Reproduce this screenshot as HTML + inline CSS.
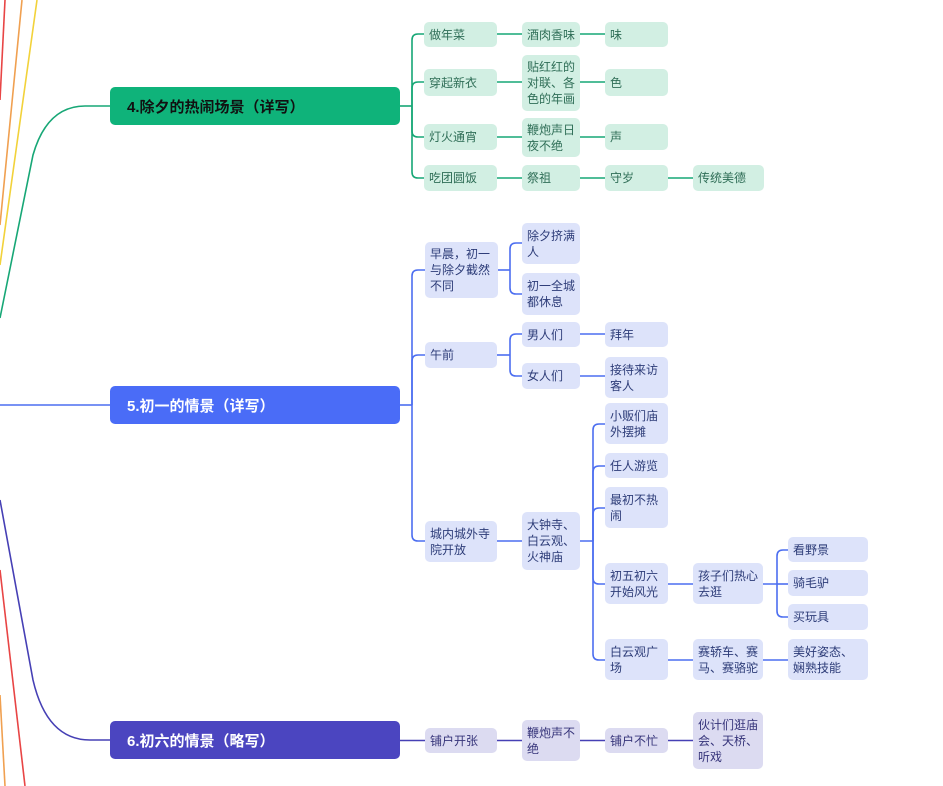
<!DOCTYPE html>
<html><head><meta charset="utf-8"><style>
body{margin:0;width:943px;height:786px;background:#fff;position:relative;overflow:hidden;font-family:"Liberation Sans","Noto Sans CJK SC",sans-serif}
.n{position:absolute;box-sizing:border-box;display:flex;align-items:center;padding:0 5px;font-size:12px;line-height:16px;border-radius:5px}
.g{background:#d2efe3;color:#2f6e57}
.b{background:#dde3fa;color:#2d3c78}
.p{background:#dcdbf1;color:#36347a}
.h{position:absolute;left:110px;width:290px;height:38px;border-radius:5px;display:flex;align-items:center;padding-left:17px;box-sizing:border-box;font-size:15px;font-weight:bold}
svg{position:absolute;left:0;top:0}
</style></head><body>
<svg width="943" height="786" fill="none" stroke-width="1.6">
<path d="M5,0 L0,100" stroke="#e84545"/>
<path d="M22,0 L0,225" stroke="#f0a050"/>
<path d="M37,0 L0,265" stroke="#f2d23a"/>
<path d="M0,570 L25,786" stroke="#e84545"/>
<path d="M0,695 L5,786" stroke="#f0a050"/>
<path d="M0,318 L33,155 Q47,106 85,106 L110,106" stroke="#17a776"/>
<path d="M0,405 L110,405" stroke="#4c6ef0"/>
<path d="M0,500 L33,680 Q47,740 90,740 L110,740" stroke="#4640b5"/>
<g stroke="#17a776">
<path d="M400,106 L412,106"/>
<path d="M412,106 L412,40 Q412,34 418,34 L424,34"/>
<path d="M412,106 L412,88 Q412,82 418,82 L424,82"/>
<path d="M412,106 L412,131 Q412,137 418,137 L424,137"/>
<path d="M412,106 L412,172 Q412,178 418,178 L424,178"/>
<path d="M497,34H522M580,34H605M497,82H522M580,82H605M497,137H522M580,137H605M497,178H522M580,178H605M668,178H693"/>
</g>
<g stroke="#4c6ef0">
<path d="M400,405 L412,405"/>
<path d="M412,405 L412,276 Q412,270 418,270 L425,270"/>
<path d="M412,405 L412,361 Q412,355 418,355 L425,355"/>
<path d="M412,405 L412,535 Q412,541 418,541 L425,541"/>
<path d="M498,270 L510,270"/>
<path d="M510,270 L510,249 Q510,243 516,243 L522,243"/>
<path d="M510,270 L510,288 Q510,294 516,294 L522,294"/>
<path d="M497,355 L510,355"/>
<path d="M510,355 L510,340 Q510,334 516,334 L522,334"/>
<path d="M510,355 L510,370 Q510,376 516,376 L522,376"/>
<path d="M580,334H605M580,376H605M497,541H522M580,541H593"/>
<path d="M593,541 L593,430 Q593,424 599,424 L605,424"/>
<path d="M593,541 L593,472 Q593,466 599,466 L605,466"/>
<path d="M593,541 L593,514 Q593,508 599,508 L605,508"/>
<path d="M593,541 L593,578 Q593,584 599,584 L605,584"/>
<path d="M593,541 L593,654 Q593,660 599,660 L605,660"/>
<path d="M668,584H693M763,584H777M668,660H693M763,660H788"/>
<path d="M777,584 L777,556 Q777,550 783,550 L788,550"/>
<path d="M777,584 L788,584"/>
<path d="M777,584 L777,611 Q777,617 783,617 L788,617"/>
</g>
<path d="M400,740.5H425M497,740.5H522M580,740.5H605M668,740.5H693" stroke="#4640b5"/>
</svg>

<div class="h" style="top:87px;background:#0fb37a;color:#111">4.除夕的热闹场景（详写）</div>
<div class="h" style="top:386px;background:#4a6cf7;color:#fff">5.初一的情景（详写）</div>
<div class="h" style="top:721px;background:#4b45c0;color:#fff">6.初六的情景（略写）</div>

<div class="n g" style="left:424px;top:22px;width:73px;height:25px">做年菜</div>
<div class="n g" style="left:522px;top:22px;width:58px;height:25px">酒肉香味</div>
<div class="n g" style="left:605px;top:22px;width:63px;height:25px">味</div>
<div class="n g" style="left:424px;top:69px;width:73px;height:27px">穿起新衣</div>
<div class="n g" style="left:522px;top:55px;width:58px;height:56px">贴红红的对联、各色的年画</div>
<div class="n g" style="left:605px;top:69px;width:63px;height:27px">色</div>
<div class="n g" style="left:424px;top:124px;width:73px;height:26px">灯火通宵</div>
<div class="n g" style="left:522px;top:118px;width:58px;height:39px">鞭炮声日夜不绝</div>
<div class="n g" style="left:605px;top:124px;width:63px;height:26px">声</div>
<div class="n g" style="left:424px;top:165px;width:73px;height:26px">吃团圆饭</div>
<div class="n g" style="left:522px;top:165px;width:58px;height:26px">祭祖</div>
<div class="n g" style="left:605px;top:165px;width:63px;height:26px">守岁</div>
<div class="n g" style="left:693px;top:165px;width:71px;height:26px">传统美德</div>

<div class="n b" style="left:425px;top:242px;width:73px;height:56px">早晨，初一与除夕截然不同</div>
<div class="n b" style="left:522px;top:223px;width:58px;height:41px">除夕挤满人</div>
<div class="n b" style="left:522px;top:273px;width:58px;height:42px">初一全城都休息</div>
<div class="n b" style="left:425px;top:342px;width:72px;height:26px">午前</div>
<div class="n b" style="left:522px;top:322px;width:58px;height:25px">男人们</div>
<div class="n b" style="left:605px;top:322px;width:63px;height:25px">拜年</div>
<div class="n b" style="left:522px;top:363px;width:58px;height:26px">女人们</div>
<div class="n b" style="left:605px;top:357px;width:63px;height:41px">接待来访客人</div>
<div class="n b" style="left:425px;top:521px;width:72px;height:41px">城内城外寺院开放</div>
<div class="n b" style="left:522px;top:512px;width:58px;height:58px">大钟寺、白云观、火神庙</div>
<div class="n b" style="left:605px;top:403px;width:63px;height:41px">小贩们庙外摆摊</div>
<div class="n b" style="left:605px;top:453px;width:63px;height:25px">任人游览</div>
<div class="n b" style="left:605px;top:487px;width:63px;height:41px">最初不热闹</div>
<div class="n b" style="left:605px;top:563px;width:63px;height:41px">初五初六开始风光</div>
<div class="n b" style="left:693px;top:563px;width:70px;height:41px">孩子们热心去逛</div>
<div class="n b" style="left:788px;top:537px;width:80px;height:25px">看野景</div>
<div class="n b" style="left:788px;top:570px;width:80px;height:26px">骑毛驴</div>
<div class="n b" style="left:788px;top:604px;width:80px;height:26px">买玩具</div>
<div class="n b" style="left:605px;top:639px;width:63px;height:41px">白云观广场</div>
<div class="n b" style="left:693px;top:639px;width:70px;height:41px">赛轿车、赛马、赛骆驼</div>
<div class="n b" style="left:788px;top:639px;width:80px;height:41px">美好姿态、娴熟技能</div>

<div class="n p" style="left:425px;top:728px;width:72px;height:25px">铺户开张</div>
<div class="n p" style="left:522px;top:720px;width:58px;height:41px">鞭炮声不绝</div>
<div class="n p" style="left:605px;top:728px;width:63px;height:25px">铺户不忙</div>
<div class="n p" style="left:693px;top:712px;width:70px;height:57px">伙计们逛庙会、天桥、听戏</div>
</body></html>
